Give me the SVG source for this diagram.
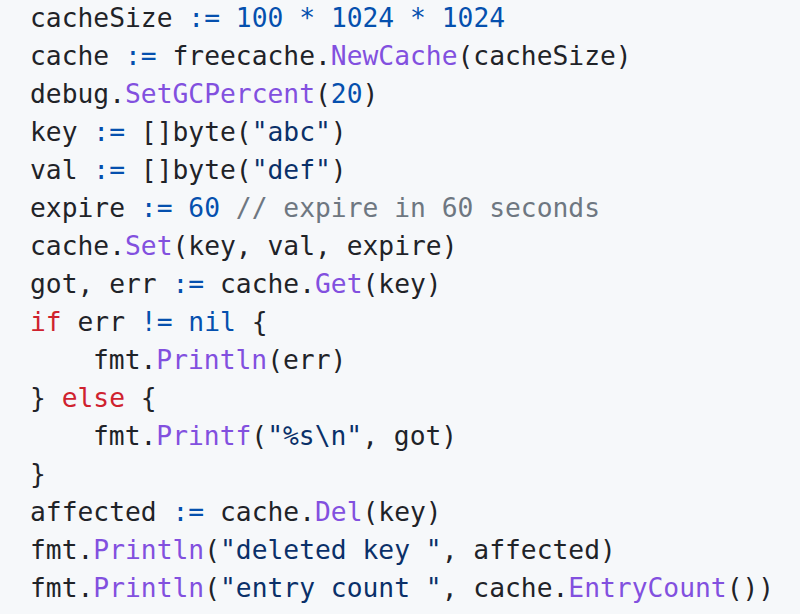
<svg xmlns="http://www.w3.org/2000/svg" width="800" height="614" viewBox="0 0 800 614">
<style>
text{font-family:"DejaVu Sans Mono","Liberation Mono",monospace;font-size:26.3px;fill:#1f2328;white-space:pre}
.k{fill:#cf222e}.f{fill:#8250df}.c{fill:#0550ae}.s{fill:#0a3069}.m{fill:#6e7781}
</style>
<rect width="800" height="614" fill="#f6f8fa"/>
<g id="code" xml:space="preserve">
<text x="30" y="26.5">cacheSize <tspan class="c">:=</tspan> <tspan class="c">100</tspan> <tspan class="c">*</tspan> <tspan class="c">1024</tspan> <tspan class="c">*</tspan> <tspan class="c">1024</tspan></text>
<text x="30" y="64.5">cache <tspan class="c">:=</tspan> freecache.<tspan class="f">NewCache</tspan>(cacheSize)</text>
<text x="30" y="102.5">debug.<tspan class="f">SetGCPercent</tspan>(<tspan class="c">20</tspan>)</text>
<text x="30" y="140.5">key <tspan class="c">:=</tspan> []byte(<tspan class="s">"abc"</tspan>)</text>
<text x="30" y="178.5">val <tspan class="c">:=</tspan> []byte(<tspan class="s">"def"</tspan>)</text>
<text x="30" y="216.5">expire <tspan class="c">:=</tspan> <tspan class="c">60</tspan> <tspan class="m">// expire in 60 seconds</tspan></text>
<text x="30" y="254.5">cache.<tspan class="f">Set</tspan>(key, val, expire)</text>
<text x="30" y="292.5">got, err <tspan class="c">:=</tspan> cache.<tspan class="f">Get</tspan>(key)</text>
<text x="30" y="330.5"><tspan class="k">if</tspan> err <tspan class="c">!=</tspan> <tspan class="c">nil</tspan> {</text>
<text x="93" y="368.5">fmt.<tspan class="f">Println</tspan>(err)</text>
<text x="30" y="406.5">} <tspan class="k">else</tspan> {</text>
<text x="93" y="444.5">fmt.<tspan class="f">Printf</tspan>(<tspan class="s">"%s\n"</tspan>, got)</text>
<text x="30" y="482.5">}</text>
<text x="30" y="520.5">affected <tspan class="c">:=</tspan> cache.<tspan class="f">Del</tspan>(key)</text>
<text x="30" y="558.5">fmt.<tspan class="f">Println</tspan>(<tspan class="s">"deleted key "</tspan>, affected)</text>
<text x="30" y="596.5">fmt.<tspan class="f">Println</tspan>(<tspan class="s">"entry count "</tspan>, cache.<tspan class="f">EntryCount</tspan>())</text>
</g>
</svg>
